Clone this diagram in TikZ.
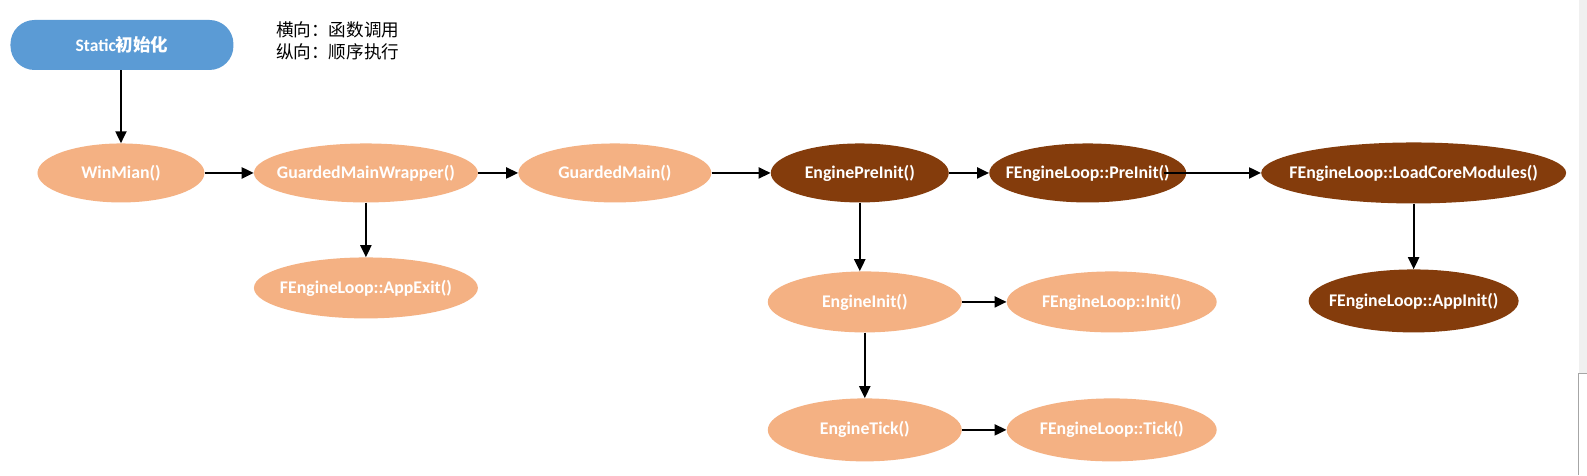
\documentclass[tikz,border=0pt]{standalone}
\usepackage{fontspec}
\setmainfont{Carlito}
\newfontfamily\cjk{Noto Sans CJK SC}
\usetikzlibrary{shapes.geometric,arrows.meta,calc}
\definecolor{staticblue}{HTML}{5B9BD5}
\definecolor{lightor}{HTML}{F4B183}
\definecolor{darkbr}{HTML}{843C0C}
\definecolor{stripgrey}{HTML}{F0F0F0}
\newcommand\zlbl[1]{\makebox[0pt]{#1}}
\begin{document}
\begin{tikzpicture}[x=1pt,y=-1pt,
  ell/.style={ellipse,inner sep=0pt,font=\fontsize{17.8}{20}\selectfont\bfseries,text=white},
  lightell/.style={ell,fill=lightor},
  darkell/.style={ell,fill=darkbr},
  conn/.style={line width=2.1pt,-{Triangle[length=12pt,width=11pt]}}]
\fill[white] (0,0) rectangle (1587,475);
\fill[stripgrey] (1579,0) rectangle (1587,373);
\draw[gray!70,line width=0.8pt] (1587,373) -- (1579,373) -- (1579,475);

\node[fill=staticblue,rounded corners=24pt,minimum width=223pt,minimum height=50pt,inner sep=0pt,
      text=white,font=\fontsize{17.5}{20}\selectfont\bfseries] (static) at (122,45) {Static{\cjk\bfseries 初始化}};
\node[anchor=north west,align=left,inner sep=0pt,font=\cjk\fontsize{17.6}{22}\selectfont] (legend) at (276,21) {横向：函数调用\\纵向：顺序执行};

\node[lightell,minimum width=167pt,minimum height=59pt] (win) at (121,173) {\zlbl{WinMian()}};
\node[lightell,minimum width=224pt,minimum height=59pt] (gmw) at (366,173) {\zlbl{GuardedMainWrapper()}};
\node[lightell,minimum width=193pt,minimum height=59pt] (gm) at (615,173) {\zlbl{GuardedMain()}};
\node[darkell,minimum width=178pt,minimum height=59pt] (epi) at (860,173) {\zlbl{EnginePreInit()}};
\node[darkell,minimum width=197pt,minimum height=59pt] (pre) at (1088,173) {\zlbl{FEngineLoop::PreInit()}};
\node[darkell,minimum width=305pt,minimum height=61pt] (load) at (1414,173) {\zlbl{FEngineLoop::LoadCoreModules()}};
\node[darkell,minimum width=210pt,minimum height=63pt] (appinit) at (1414,301) {\zlbl{FEngineLoop::AppInit()}};
\node[lightell,minimum width=224pt,minimum height=61pt] (appexit) at (366,288) {\zlbl{FEngineLoop::AppExit()}};
\node[lightell,minimum width=194pt,minimum height=61pt] (einit) at (865,302) {\zlbl{EngineInit()}};
\node[lightell,minimum width=210pt,minimum height=61pt] (finit) at (1112,302) {\zlbl{FEngineLoop::Init()}};
\node[lightell,minimum width=194pt,minimum height=63pt] (etick) at (865,430) {\zlbl{EngineTick()}};
\node[lightell,minimum width=210pt,minimum height=63pt] (ftick) at (1112,430) {\zlbl{FEngineLoop::Tick()}};

\draw[conn] (static.south -| win.north) -- (win.north);
\draw[conn] (win.east) -- (gmw.west);
\draw[conn] (gmw.east) -- (gm.west);
\draw[conn] (gm.east) -- (epi.west);
\draw[conn] (epi.east) -- (pre.west);
\draw[conn] ($(pre.east)+(-22,0)$) -- (load.west);
\draw[conn] (gmw.south) -- (appexit.north);
\draw[conn] (epi.south) -- (epi.south |- einit.north);
\draw[conn] (einit.east) -- (finit.west);
\draw[conn] (einit.south) -- (etick.north);
\draw[conn] (etick.east) -- (ftick.west);
\draw[conn] (load.south) -- (load.south |- appinit.north);
\end{tikzpicture}
\end{document}
